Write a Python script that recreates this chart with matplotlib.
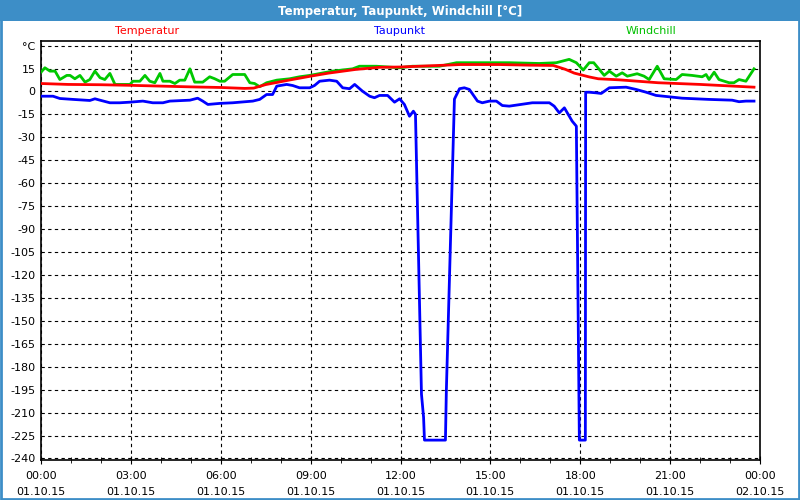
import matplotlib
matplotlib.use("Agg")
import matplotlib.pyplot as plt
from matplotlib.patches import Rectangle
from matplotlib.ticker import MultipleLocator

# hours since 01.10.15 00:00
temp_h = [0, 0.9, 2, 3, 4, 5, 6, 6.8, 7.1, 7.5, 8.3, 9, 9.6, 10.5, 11.3, 12, 13, 14,
          15.3, 16.3, 17.1, 17.5, 17.8, 18.3, 18.6, 19.3, 20.6, 22, 23.1, 23.8]
temp_v = [5.2, 4.6, 4.4, 4.0, 3.5, 3.0, 2.6, 2.0, 2.2, 4.5, 7.5, 10, 12, 14.4, 15.8, 16,
          16.8, 17.6, 17.6, 17.2, 17, 14.5, 12, 9.5, 8.3, 7.6, 5.7, 4.6, 3.5, 2.8]

wind_h = [0, 0.13, 0.3, 0.47, 0.63, 0.86, 0.97, 1.13, 1.3, 1.47, 1.63, 1.8, 1.97, 2.13,
          2.3, 2.47, 2.97, 3.07, 3.3, 3.47, 3.63, 3.8, 3.97, 4.07, 4.3, 4.47, 4.63, 4.8,
          4.97, 5.13, 5.4, 5.63, 5.8, 5.97, 6.13, 6.4, 6.8, 6.97, 7.13, 7.3, 7.53, 7.87,
          8.3, 8.63, 8.97, 9.73, 10.4, 10.63, 11.2, 11.97, 12.4, 13.3, 13.87, 15.63, 16.63,
          17.2, 17.63, 17.87, 18.1, 18.3, 18.45, 18.8, 18.97, 19.2, 19.4, 19.57, 19.9,
          20.13, 20.3, 20.57, 20.8, 21.2, 21.4, 21.73, 22.07, 22.2, 22.3, 22.47, 22.63,
          22.97, 23.13, 23.3, 23.53, 23.8]
wind_v = [12.6, 15.5, 13.3, 13.3, 7.8, 10.5, 10.5, 8.3, 10.5, 6.1, 7.8, 13.3, 9, 7.8,
          11.8, 4.6, 4.6, 6.7, 6.7, 10.5, 6.7, 5.7, 11.8, 6.7, 6.7, 5.2, 7.4, 7.4,
          14.8, 6.1, 6.1, 9.6, 8.3, 6.7, 6.7, 11.1, 11.1, 5.7, 5.2, 3.1, 5.7, 7.4,
          8.3, 9.6, 10.5, 13.3, 14.8, 16.5, 16.5, 15.5, 16.5, 16.5, 18.8, 18.8, 18.3,
          18.8, 21.0, 18.8, 14.0, 18.8, 18.8, 10.5, 13.3, 10.0, 12.2, 10.0, 11.6,
          10.0, 7.8, 16.5, 8.3, 7.8, 11.1, 10.5, 9.6, 11.1, 7.8, 12.6, 7.8,
          5.7, 5.7, 7.8, 6.7, 14.8]

dew_h = [0, 0.4, 0.63, 1.07, 1.63, 1.8, 1.97, 2.3, 2.63, 2.97, 3.4, 3.73, 4.07, 4.3,
         4.97, 5.23, 5.4, 5.57, 5.97, 6.4, 7.07, 7.3, 7.53, 7.73, 7.87, 8.2, 8.4, 8.63,
         8.97, 9.13, 9.3, 9.63, 9.87, 10.07, 10.3, 10.47, 10.73, 10.97, 11.13, 11.3,
         11.57, 11.8, 11.97, 12.13, 12.3, 12.43, 12.5, 12.7, 12.77, 12.8, 13.5, 13.53,
         13.8, 13.97, 14.13, 14.3, 14.57, 14.73, 14.97, 15.2, 15.4, 15.63, 16.4, 16.97,
         17.13, 17.3, 17.47, 17.73, 17.87, 17.97, 18.17, 18.18, 18.3, 18.53, 18.7, 18.97,
         19.53, 19.87, 20.2, 20.53, 20.97, 21.4, 22.3, 23.07, 23.3, 23.53, 23.8]
dew_v = [-3.1, -3.1, -4.6, -5.2, -5.9, -4.8, -5.7, -7.4, -7.4, -7.0, -6.3, -7.4, -7.4, -6.3,
         -5.7, -4.4, -6.3, -8.5, -7.8, -7.4, -6.3, -5.2, -2.0, -2.0, 3.5, 4.6, 3.9, 2.4,
         2.4, 3.9, 6.7, 7.4, 6.7, 2.4, 1.8, 4.6, 0.2, -3.1, -4.1, -2.6,
         -2.6, -7.0, -4.8, -8.5, -16.2, -12.9, -15, -198, -213, -228, -228, -196,
         -5, 1.8, 2.4, 1.3, -6.3, -7.4, -6.3, -6.3, -9.2, -9.6, -7.4, -7.4,
         -9.6, -14, -10.7, -19.4, -22.7, -228, -228, -0.5, -0.5, -0.9, -1.3, 2.4,
         2.8, 1.3, -0.5, -2.6, -3.5, -4.4, -5.2, -5.7, -6.7, -6.3, -6.3]

y_ticks = list(range(30, -241, -15))
y_labels = ["°C"] + [str(v) for v in y_ticks[1:]]
x_ticks = list(range(0, 25, 3))
x_labels = ["00:00\n01.10.15", "03:00\n01.10.15", "06:00\n01.10.15", "09:00\n01.10.15",
            "12:00\n01.10.15", "15:00\n01.10.15", "18:00\n01.10.15", "21:00\n01.10.15",
            "00:00\n02.10.15"]

BAR_BLUE = "#3d8ec7"

fig = plt.figure(figsize=(8, 5), dpi=100)
fig.patch.set_facecolor("white")

# title bar and window border
fig.patches.append(Rectangle((0, 0.958), 1, 0.042, transform=fig.transFigure,
                             facecolor=BAR_BLUE, edgecolor="none", zorder=0))
fig.patches.append(Rectangle((0.001, 0.002), 0.998, 0.996, transform=fig.transFigure,
                             facecolor="none", edgecolor=BAR_BLUE, linewidth=2, zorder=0))
fig.text(0.5, 0.978, "Temperatur, Taupunkt, Windchill [°C]", color="white",
         fontsize=8.5, fontweight="bold", ha="center", va="center")

ax = fig.add_axes([0.05125, 0.08, 0.89875, 0.838])

ax.plot(wind_h, wind_v, color="#00c800", linewidth=2, zorder=3)
ax.plot(temp_h, temp_v, color="#ff0000", linewidth=2, zorder=4)
ax.plot(dew_h, dew_v, color="#0000ff", linewidth=2, zorder=5)

ax.set_xlim(0, 24)
ax.set_ylim(-241, 33)
ax.set_yticks(y_ticks)
ax.set_yticklabels(y_labels)
ax.set_xticks(x_ticks)
ax.set_xticklabels(x_labels, linespacing=1.75)
ax.xaxis.set_minor_locator(MultipleLocator(1))
ax.tick_params(axis="both", which="both", labelsize=8, color="black")
ax.tick_params(axis="y", length=0, pad=4)
ax.tick_params(axis="x", which="major", direction="inout", length=6, pad=5)
ax.tick_params(axis="x", which="minor", direction="inout", length=4)
ax.grid(True, which="major", color="black", linestyle=(0, (3, 3)), linewidth=0.8)
for sp in ax.spines.values():
    sp.set_linewidth(1.2)

# series names above the plot
fig.text(0.184, 0.937, "Temperatur", color="#ff0000", fontsize=8, ha="center", va="center")
fig.text(0.5, 0.937, "Taupunkt", color="#0000ff", fontsize=8, ha="center", va="center")
fig.text(0.814, 0.937, "Windchill", color="#00c000", fontsize=8, ha="center", va="center")

fig.savefig("out.png", dpi=100)
